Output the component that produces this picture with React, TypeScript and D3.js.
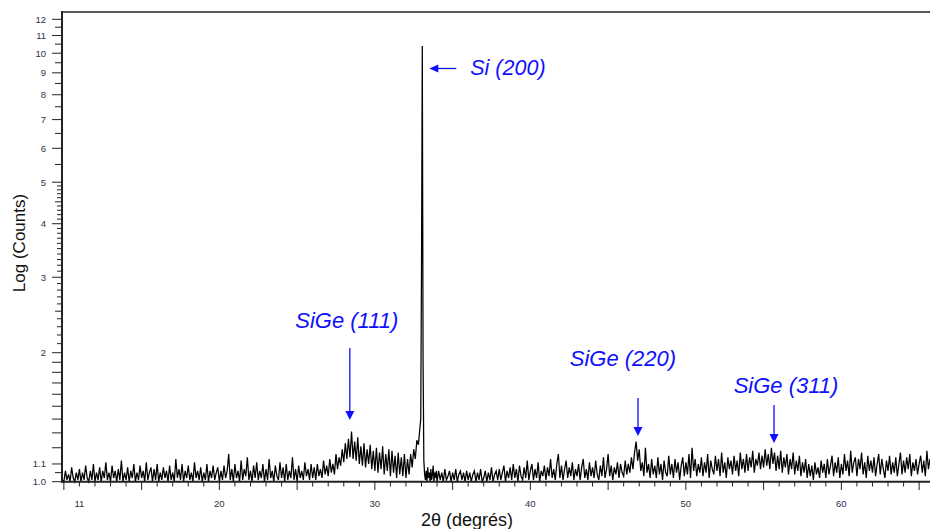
import React from "react";
import * as d3 from "d3";

// ---- data (2θ in degrees, counts on log axis) ----
// Segment A: 9.9° .. 25.9°, step 0.1
const segAStart = 9.9;
const segAStep = 0.1;
const segA = [
  1.01,
  1.00,1.06,1.01,1.04,1.00,1.08,1.02,1.00,1.05,1.01,
  1.07,1.00,1.05,1.01,1.09,1.02,1.00,1.06,1.01,1.10,
  1.00,1.05,1.01,1.08,1.00,1.06,1.02,1.11,1.01,1.05,
  1.00,1.09,1.02,1.06,1.00,1.07,1.01,1.12,1.00,1.05,
  1.01,1.08,1.00,1.06,1.02,1.10,1.00,1.05,1.01,1.09,
  1.02,1.06,1.00,1.11,1.01,1.05,1.08,1.00,1.07,1.01,
  1.10,1.00,1.05,1.01,1.08,1.02,1.06,1.00,1.09,1.01,
  1.05,1.00,1.13,1.02,1.07,1.01,1.10,1.00,1.06,1.02,
  1.09,1.01,1.05,1.00,1.11,1.02,1.06,1.01,1.08,1.00,
  1.05,1.01,1.10,1.00,1.06,1.02,1.09,1.01,1.05,1.08,
  1.00,1.06,1.01,1.09,1.02,1.06,1.16,1.01,1.07,1.00,
  1.10,1.02,1.06,1.00,1.12,1.01,1.07,1.03,1.14,1.01,
  1.06,1.00,1.09,1.02,1.11,1.01,1.06,1.02,1.10,1.00,
  1.07,1.01,1.13,1.02,1.06,1.00,1.09,1.03,1.01,1.11,
  1.02,1.08,1.00,1.10,1.01,1.06,1.02,1.14,1.01,1.07,
  1.00,1.09,1.02,1.06,1.01,1.11,1.03,1.07,1.01,1.10,
];
// Segment B: 26.0° .. 32.9°, step 0.1 (SiGe (111) hump and Si shoulder)
const segBStart = 26.0;
const segBStep = 0.1;
const segB = [
  1.02,1.08,1.01,1.10,1.03,1.07,1.02,1.12,1.04,1.09,
  1.03,1.13,1.05,1.10,1.04,1.16,1.07,1.14,1.09,1.19,
  1.11,1.23,1.13,1.26,1.14,1.31,1.13,1.24,1.12,1.27,
  1.10,1.21,1.09,1.23,1.08,1.19,1.10,1.22,1.07,1.18,
  1.06,1.20,1.05,1.17,1.07,1.21,1.04,1.16,1.06,1.19,
  1.03,1.18,1.05,1.15,1.02,1.17,1.04,1.14,1.03,1.16,
  1.02,1.13,1.04,1.16,1.08,1.19,1.13,1.25,1.22,1.34,
];
// Segment P: 32.95° .. 33.95°, step 0.05 (Si (200) peak)
const segPStart = 32.95;
const segPStep = 0.05;
const segP = [
  1.40,3.2,10.4,1.9,1.12,1.04,1.01,1.06,1.00,1.08,
  1.02,1.05,1.00,1.07,1.01,1.04,1.09,1.00,1.05,1.02,1.06,
];
// Segment C: 34.0° .. 65.7°, step 0.1
const segCStart = 34.0;
const segCStep = 0.1;
const segC = [
  1.00,1.06,1.01,1.05,1.00,1.07,1.01,1.03,1.06,1.00,
  1.05,1.01,1.07,1.00,1.04,1.06,1.01,1.05,1.00,1.06,
  1.01,1.05,1.00,1.04,1.06,1.00,1.05,1.01,1.07,1.00,
  1.02,1.06,1.00,1.05,1.01,1.08,1.00,1.04,1.06,1.01,
  1.07,1.01,1.05,1.09,1.00,1.06,1.02,1.08,1.01,1.10,
  1.02,1.07,1.00,1.09,1.03,1.01,1.08,1.02,1.12,1.01,
  1.06,1.10,1.01,1.07,1.02,1.11,1.00,1.06,1.03,1.09,
  1.01,1.08,1.03,1.13,1.02,1.07,1.01,1.10,1.16,1.02,
  1.09,1.01,1.07,1.12,1.02,1.08,1.03,1.11,1.01,1.07,
  1.03,1.10,1.01,1.08,1.13,1.02,1.07,1.01,1.11,1.03,
  1.08,1.02,1.12,1.04,1.01,1.09,1.03,1.14,1.02,1.07,
  1.16,1.03,1.09,1.01,1.08,1.04,1.11,1.02,1.10,1.05,
  1.03,1.12,1.04,1.10,1.05,1.14,1.07,1.17,1.24,1.12,
  1.19,1.06,1.11,1.03,1.20,1.05,1.10,1.02,1.13,1.04,
  1.09,1.02,1.14,1.04,1.10,1.01,1.12,1.05,1.03,1.15,
  1.04,1.10,1.02,1.13,1.05,1.11,1.01,1.09,1.14,1.03,
  1.11,1.04,1.16,1.02,1.20,1.06,1.13,1.03,1.10,1.05,
  1.14,1.03,1.11,1.05,1.16,1.02,1.12,1.07,1.04,1.15,
  1.06,1.13,1.03,1.17,1.05,1.11,1.02,1.14,1.07,1.12,
  1.04,1.15,1.06,1.12,1.03,1.17,1.07,1.13,1.05,1.16,
  1.06,1.14,1.08,1.18,1.05,1.13,1.09,1.17,1.07,1.15,
  1.08,1.19,1.09,1.16,1.07,1.20,1.10,1.17,1.06,1.15,
  1.07,1.18,1.05,1.14,1.08,1.16,1.04,1.13,1.07,1.17,
  1.04,1.12,1.06,1.15,1.03,1.11,1.05,1.13,1.02,1.10,
  1.03,1.09,1.01,1.11,1.04,1.08,1.02,1.12,1.05,1.10,
  1.02,1.13,1.04,1.09,1.15,1.03,1.11,1.05,1.14,1.02,
  1.10,1.04,1.16,1.06,1.12,1.03,1.18,1.05,1.11,1.14,
  1.03,1.13,1.07,1.17,1.04,1.11,1.02,1.15,1.06,1.12,
  1.05,1.14,1.03,1.10,1.16,1.04,1.13,1.07,1.02,1.12,
  1.06,1.15,1.04,1.11,1.05,1.14,1.03,1.10,1.17,1.04,
  1.12,1.05,1.14,1.07,1.16,1.03,1.11,1.06,1.13,1.04,
  1.10,1.15,1.05,1.12,1.03,1.18,1.07,1.13,
];

// axis ticks
const xTickLabels = [11, 20, 30, 40, 50, 60];
const yTickLabels = [1.0, 1.1, 2, 3, 4, 5, 6, 7, 8, 9, 10, 11, 12];
const yTickLabelText = ["1.0", "1.1", "2", "3", "4", "5", "6", "7", "8", "9", "10", "11", "12"];
const yLongTicks = [1.2, 1.3, 1.4, 1.5, 1.6, 1.7, 1.8, 1.9];
const yMidTicks = [1.05, 2.5, 4.5, 5.5, 6.5, 7.5, 8.5, 9.5, 10.5, 11.5];
const yShortTicks = [
  2.1, 2.2, 2.3, 2.4, 2.6, 2.7, 2.8, 2.9,
  3.1, 3.2, 3.3, 3.4, 3.5, 3.6, 3.7, 3.8, 3.9,
  4.1, 4.2, 4.3, 4.4, 4.6, 4.7, 4.8, 4.9,
];

// peak annotations
const annLabels = ["SiGe (111)", "SiGe (220)", "SiGe (311)"];
const annAngles = [28.39, 46.92, 55.67];
const siLabel = "Si (200)";
const siAngle = 33.5;

const W = 930;
const H = 529;
const blue = "#1010ff";
const tickColor = "#2e3048";

export default function App() {
  const x = d3.scaleLinear().domain([9.88, 65.7]).range([62, 930]);
  const y = d3.scaleLog().domain([1, 12.48]).range([481.7, 12]);

  const pts: [number, number][] = [];
  const add = (start: number, step: number, vals: number[]) => {
    vals.forEach((v, i) => pts.push([start + i * step, v]));
  };
  add(segAStart, segAStep, segA);
  add(segBStart, segBStep, segB);
  add(segPStart, segPStep, segP);
  add(segCStart, segCStep, segC);

  const line = d3
    .line<[number, number]>()
    .x((d) => x(d[0]))
    .y((d) => y(d[1]));

  const xTicks = d3.range(10, 66, 1);

  const ann = [
    { label: annLabels[0], a: annAngles[0], dx: -3, textY: 328, top: 348, tip: 420 },
    { label: annLabels[1], a: annAngles[1], dx: -15, textY: 366, top: 398, tip: 436 },
    { label: annLabels[2], a: annAngles[2], dx: 12, textY: 393, top: 405, tip: 443 },
  ];

  const fontAnn = "Liberation Sans, Arial, sans-serif";

  return (
    <svg
      width={W}
      height={H}
      style={{ position: "absolute", left: 0, top: 0, background: "#fff" }}
      fontFamily="Liberation Sans, Arial, sans-serif"
    >
      <rect x={0} y={0} width={W} height={H} fill="#fff" />
      {/* data trace */}
      <path d={line(pts) || ""} fill="none" stroke="#000" strokeWidth={1.25} strokeLinejoin="miter" />

      {/* frame */}
      <line x1={61} x2={930} y1={12} y2={12} stroke="#222" strokeWidth={1.6} />
      <line x1={62} x2={62} y1={11} y2={482.7} stroke="#222" strokeWidth={2} />
      <line x1={61} x2={930} y1={481.7} y2={481.7} stroke="#222" strokeWidth={2} />

      {/* x ticks */}
      {xTicks.map((t) => (
        <line
          key={"xt" + t}
          x1={x(t)}
          x2={x(t)}
          y1={481.7}
          y2={t % 5 === 0 ? 490 : 486.5}
          stroke="#222"
          strokeWidth={1}
        />
      ))}
      {xTickLabels.map((t) => (
        <text
          key={"xl" + t}
          x={x(t)}
          y={507}
          textAnchor="middle"
          fontSize={9.5}
          fill={tickColor}
        >
          {t}
        </text>
      ))}

      {/* y ticks */}
      {yTickLabels.map((t, i) => (
        <g key={"yl" + i}>
          <line x1={52} x2={62} y1={y(t)} y2={y(t)} stroke="#222" strokeWidth={1} />
          <text
            x={46}
            y={y(t)}
            dy="0.36em"
            textAnchor="end"
            fontSize={9.5}
            fill={tickColor}
          >
            {yTickLabelText[i]}
          </text>
        </g>
      ))}
      {yLongTicks.map((t) => (
        <line key={"ylt" + t} x1={52} x2={62} y1={y(t)} y2={y(t)} stroke="#222" strokeWidth={1} />
      ))}
      {yMidTicks.map((t) => (
        <line key={"ymt" + t} x1={55} x2={62} y1={y(t)} y2={y(t)} stroke="#222" strokeWidth={1} />
      ))}
      {yShortTicks.map((t) => (
        <line key={"yst" + t} x1={57} x2={62} y1={y(t)} y2={y(t)} stroke="#222" strokeWidth={1} />
      ))}

      {/* axis titles */}
      <text
        transform="translate(25,243) rotate(-90)"
        textAnchor="middle"
        fontSize={17}
        fill="#111"
      >
        Log (Counts)
      </text>
      <text x={467} y={526} textAnchor="middle" fontSize={18} fill="#111">
        2θ (degrés)
      </text>

      {/* Si (200) annotation */}
      <line x1={x(siAngle) + 27} x2={x(siAngle) + 8} y1={68.5} y2={68.5} stroke={blue} strokeWidth={1.3} />
      <polygon
        points={`${x(siAngle)},68.5 ${x(siAngle) + 9},64.5 ${x(siAngle) + 9},72.5`}
        fill={blue}
      />
      <text
        x={x(siAngle) + 41}
        y={75}
        fontSize={21.5}
        fontStyle="italic"
        fill={blue}
        fontFamily={fontAnn}
      >
        {siLabel}
      </text>

      {/* SiGe annotations */}
      {ann.map((a) => (
        <g key={a.label}>
          <text
            x={x(a.a) + a.dx}
            y={a.textY}
            textAnchor="middle"
            fontSize={22}
            fontStyle="italic"
            fill={blue}
            fontFamily={fontAnn}
          >
            {a.label}
          </text>
          <line x1={x(a.a)} x2={x(a.a)} y1={a.top} y2={a.tip - 8} stroke={blue} strokeWidth={1.3} />
          <polygon
            points={`${x(a.a)},${a.tip} ${x(a.a) - 4.5},${a.tip - 9} ${x(a.a) + 4.5},${a.tip - 9}`}
            fill={blue}
          />
        </g>
      ))}
    </svg>
  );
}
